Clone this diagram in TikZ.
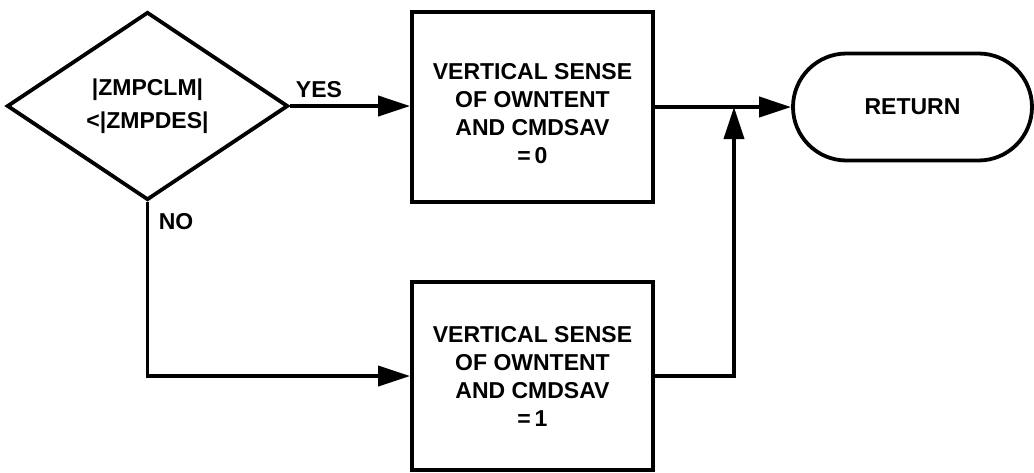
\documentclass[tikz,border=0pt]{standalone}
\usepackage{fontspec}
\setmainfont{Liberation Sans}
\usetikzlibrary{shapes.geometric,shapes.misc,arrows.meta}
\begin{document}
\begin{tikzpicture}[x=1pt,y=-1pt,
  every node/.style={font=\bfseries\fontsize{23}{28}\selectfont, align=center, inner sep=0pt},
  ln/.style={line width=3.8pt},
  arr/.style={ln, -{Triangle[length=32pt,width=20pt]}},
  dia/.style={diamond, draw, line width=3.8pt, minimum width=281pt, minimum height=188pt},
  boxx/.style={rectangle, draw, line width=3.8pt, minimum width=241pt},
  term/.style={rounded rectangle, draw, line width=3.8pt, minimum width=239pt, minimum height=107pt},
  lbl/.style={}]
\useasboundingbox (0,0) rectangle (1034,472);
\node[dia] (d) at (147.5,106) {|ZMPCLM|\\[5pt]<|ZMPDES|};
\node[boxx, minimum height=190pt] (b1) at (532.5,107) {\rule{0pt}{29pt}VERTICAL SENSE\\OF OWNTENT\\AND CMDSAV\\=\,0};
\node[boxx, minimum height=188pt] (b2) at (532.5,376) {VERTICAL SENSE\\OF OWNTENT\\AND CMDSAV\\=\,1};
\node[term] (ret) at (912.5,107) {RETURN};
\coordinate (j) at (734,107);
\draw[arr] (d.east) -- (d.east -| b1.west);
\draw[arr] (b1.east |- ret.west) -- (ret.west);
\draw[arr] (d.south) |- (b2.west);
\draw[arr] (b2.east) -| (j);
\node[lbl] (yes) at (319,90) {YES};
\node[lbl] (no) at (176,222) {NO};
\end{tikzpicture}
\end{document}
